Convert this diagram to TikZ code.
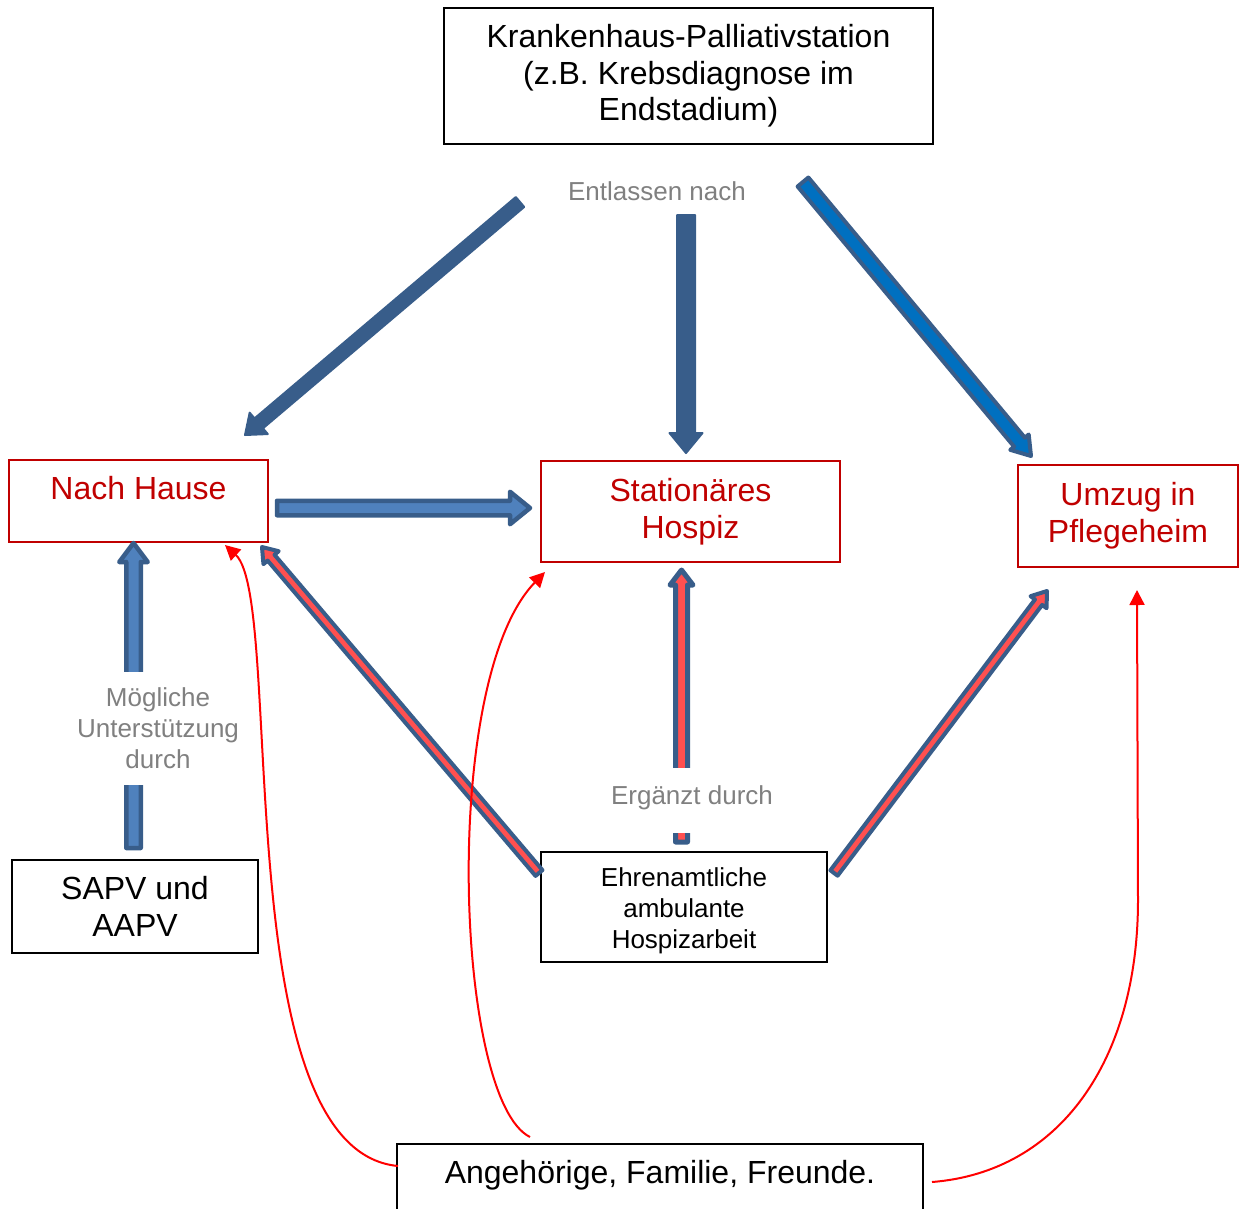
\documentclass[tikz,border=0pt]{standalone}
\usepackage{fontspec}
\setmainfont{Liberation Sans}
\usetikzlibrary{calc,arrows.meta}
\definecolor{adark}{HTML}{385D8A}
\definecolor{alight}{HTML}{4F81BD}
\definecolor{ablue}{HTML}{0070C0}
\definecolor{ared}{HTML}{FF5050}
\definecolor{boxred}{HTML}{C00000}
\definecolor{lblgrey}{HTML}{808080}
\newcommand{\drawBlockArrow}[6]{%
  \coordinate (bahtmp) at ($(#2)!#5!(#1)$);
  \filldraw[#6] ($(#1)!#3!90:(#2)$) -- ($(bahtmp)!#3!90:(#2)$) -- ($(bahtmp)!#4!90:(#2)$) -- (#2)
    -- ($(bahtmp)!#4!-90:(#2)$) -- ($(bahtmp)!#3!-90:(#2)$) -- ($(#1)!#3!-90:(#2)$) -- cycle;}
\tikzset{
  solidarrow/.style={fill=adark, draw=adark, line width=2pt, line join=round},
  bluearrow/.style={fill=ablue, draw=adark, line width=4pt, line join=round},
  lightarrow/.style={fill=alight, draw=adark, line width=4.5pt, line join=round},
  redarrow/.style={fill=ared, draw=adark, line width=5pt, line join=round},
  thinred/.style={fill=ared, draw=adark, line width=4pt, line join=round},
  blackbox/.style={draw=black, line width=2pt, align=center, inner sep=0pt},
  redbox/.style={draw=boxred, text=boxred, line width=2.5pt, align=center, inner sep=0pt},
  greylbl/.style={text=lblgrey, fill=white, align=center, inner xsep=2pt, inner ysep=0pt, font=\fontsize{26}{31}\selectfont},
  bigtxt/.style={font=\fontsize{32}{37}\selectfont},
  smalltxt/.style={font=\fontsize{26}{31}\selectfont},
  famcurve/.style={draw=red, line width=2pt, -{Triangle[length=15pt,width=15pt]}},
}
\begin{document}
\begin{tikzpicture}[x=1pt,y=-1pt]
\useasboundingbox (0,0) rectangle (1240,1208);
% boxes
\node[blackbox, font=\fontsize{32}{36.5}\selectfont, minimum width=489pt, minimum height=136pt] (kh) at (688.5,76) {Krankenhaus-Palliativstation\\(z.B. Krebsdiagnose im\\Endstadium)};
\node[redbox, bigtxt, minimum width=259pt, minimum height=82pt, text height=23pt, text depth=26pt] (home) at (138.5,501) {Nach Hause};
\node[redbox, bigtxt, minimum width=299pt, minimum height=101pt] (hospiz) at (690.5,511.5) {Stationäres\\Hospiz};
\node[redbox, bigtxt, minimum width=220pt, minimum height=102pt] (pflege) at (1128,516) {Umzug in\\Pflegeheim};
\node[blackbox, bigtxt, minimum width=246pt, minimum height=93pt] (sapv) at (135,906.5) {SAPV und\\AAPV};
\node[blackbox, smalltxt, minimum width=286pt, minimum height=110pt, text height=83pt, text depth=0pt] (ehren) at (684,907) {Ehrenamtliche\\ambulante\\Hospizarbeit};
\node[blackbox, bigtxt, anchor=north, minimum width=526pt, inner ysep=0pt, text height=39.5pt, text depth=60pt] (fam) at (660,1143) {Angehörige, Familie, Freunde.};
% arrow end points
\coordinate (a1s) at (520,202);  \coordinate (a1e) at (245,435);
\coordinate (a2s) at (686,215);  \coordinate (a2e) at (686,453);
\coordinate (a3s) at (803,182);  \coordinate (a3e) at (1031,456);
\coordinate (a4s) at (277,508);  \coordinate (a4e) at (530,508);
\coordinate (a5s) at (133.5,848); \coordinate (a5e) at (133.5,543);
\coordinate (a6s) at (539,873);  \coordinate (a6e) at (262,547);
\coordinate (a7s) at (681.5,842); \coordinate (a7e) at (681.5,570);
\coordinate (a8s) at (834,873);  \coordinate (a8e) at (1047,591);
\drawBlockArrow{a1s}{a1e}{6.5pt}{14pt}{18pt}{solidarrow}
\drawBlockArrow{a2s}{a2e}{9pt}{16.5pt}{20pt}{solidarrow}
\drawBlockArrow{a3s}{a3e}{7pt}{12pt}{18pt}{bluearrow}
\drawBlockArrow{a4s}{a4e}{7.25pt}{16.25pt}{20pt}{lightarrow}
\drawBlockArrow{a5s}{a5e}{7.25pt}{14.25pt}{19pt}{lightarrow}
\drawBlockArrow{a6s}{a6e}{4.5pt}{10pt}{14pt}{thinred}
\drawBlockArrow{a7s}{a7e}{6pt}{11.5pt}{15pt}{redarrow}
\drawBlockArrow{a8s}{a8e}{4.5pt}{10pt}{14pt}{thinred}
% grey labels
\node[greylbl] (entl) at (657,191) {Entlassen nach};
\node[greylbl, minimum height=113pt] (moegl) at (158,728.5) {Mögliche\\Unterstützung\\durch};
\node[greylbl, anchor=north, text height=36pt, text depth=29pt] (ergz) at (692,768) {Ergänzt durch};
% family curves
\coordinate (ca) at (398,1166); \coordinate (cae) at (225,545);
\coordinate (cb) at (530,1137); \coordinate (cbe) at (545,572);
\coordinate (cc) at (932,1182); \coordinate (ccm) at (1138,900); \coordinate (cce) at (1137,590);
\draw[famcurve] (ca) .. controls (225,1150) and (285,600) .. (cae);
\draw[famcurve] (cb) .. controls (455,1100) and (440,680) .. (cbe);
\draw[famcurve] (cc) .. controls (1060,1172) and (1138,1060) .. (ccm) -- (cce);
\end{tikzpicture}
\end{document}
